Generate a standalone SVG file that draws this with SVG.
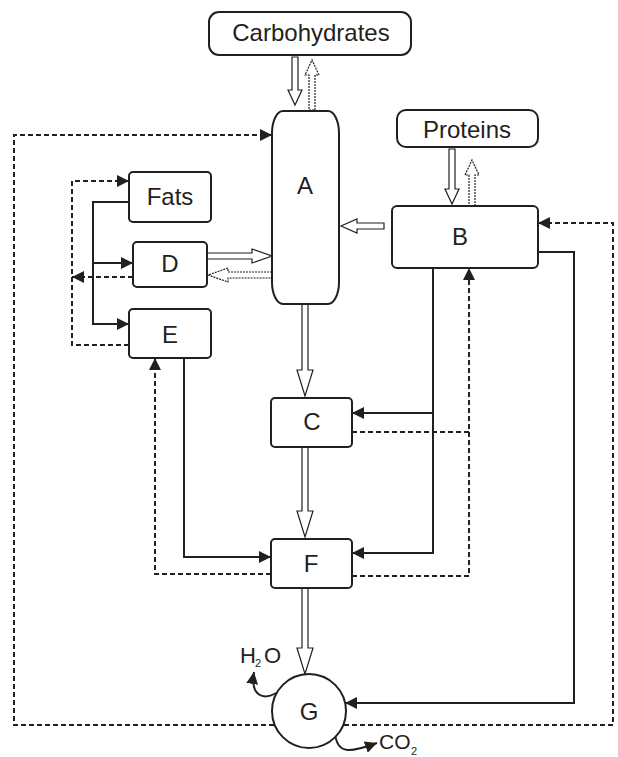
<svg xmlns="http://www.w3.org/2000/svg" width="618" height="757" viewBox="0 0 618 757">
<style>
.box{fill:#fff;stroke:#231f20;stroke-width:2}
.lbl{font-family:"Liberation Sans",Arial,sans-serif;font-size:24px;fill:#231f20;text-anchor:middle}
.s{fill:none;stroke:#231f20;stroke-width:2}
.d{fill:none;stroke:#231f20;stroke-width:2;stroke-dasharray:5,3}
.o{fill:#fff;stroke:#231f20;stroke-width:1.2}
.od{fill:#fff;stroke:#231f20;stroke-width:1.2;stroke-dasharray:2,1}
.sm{font-family:"Liberation Sans",Arial,sans-serif;font-size:21px;fill:#231f20}
.sub{font-size:11px}
</style>
<defs>
<marker id="ah" viewBox="0 0 12 12" refX="12" refY="6" markerWidth="12" markerHeight="12" markerUnits="userSpaceOnUse" orient="auto">
<path d="M0,0 L12,6 L0,12 z" fill="#231f20"/>
</marker>
</defs>
<rect width="618" height="757" fill="#fff"/>
<g id="connectors">
<path class="s" d="M129,202 H93 V324 H129" marker-end="url(#ah)"/>
<path class="s" d="M93,263 H133" marker-end="url(#ah)"/>
<path class="s" d="M433,268 V553 H352" marker-end="url(#ah)"/>
<path class="s" d="M433,413 H352" marker-end="url(#ah)"/>
<path class="s" d="M538,252 H574 V703 H345" marker-end="url(#ah)"/>
<path class="s" d="M184,358 V557 H271" marker-end="url(#ah)"/>
<path class="s" d="M276,693 C264,700 250,697 254,672" marker-end="url(#ah)"/>
<path class="s" d="M335,733 C337,756 352,752 377,743" marker-end="url(#ah)"/>
<path class="d" d="M274,725 H14 V135 H272" marker-end="url(#ah)"/>
<path class="d" d="M344,725 H613 V223 H538" marker-end="url(#ah)"/>
<path class="d" d="M129,345 H72 V181 H129" marker-end="url(#ah)"/>
<path class="d" d="M133,277 H72" marker-end="url(#ah)"/>
<path class="d" d="M352,576 H469 V268" marker-end="url(#ah)"/>
<path class="d" d="M352,432 H469"/>
<path class="d" d="M271,574 H155 V358" marker-end="url(#ah)"/>
<polygon class="o" points="292,57 298,57 298,90 302,90 295,105 288,90 292,90"/>
<polygon class="od" points="309,110 315,110 315,75 319,75 312,60 305,75 309,75"/>
<polygon class="o" points="449,149 455,149 455,189 459,189 452,204 445,189 449,189"/>
<polygon class="od" points="469,206 475,206 475,175 479,175 472,160 465,175 469,175"/>
<polygon class="o" points="384,223 357,223 357,219 341,226 357,233 357,229 384,229"/>
<polygon class="o" points="207,253 252,253 252,249 272,256 252,263 252,259 207,259"/>
<polygon class="od" points="272,272 228,272 228,268 208,275 228,282 228,278 272,278"/>
<polygon class="o" points="302,304 308,304 308,370 313,370 305,396 297,370 302,370"/>
<polygon class="o" points="302,447 308,447 308,511 313,511 305,537 297,511 302,511"/>
<polygon class="o" points="302,588 308,588 308,648 313,648 305,674 297,648 302,648"/>
</g>
<g id="carbohydrates">
<rect class="box" x="209" y="12" width="202" height="43" rx="10"/>
<text class="lbl" x="311" y="41">Carbohydrates</text>
</g>
<g id="proteins">
<rect class="box" x="397" y="110" width="141" height="37" rx="9"/>
<text class="lbl" x="467" y="138">Proteins</text>
</g>
<g id="A">
<rect class="box" x="272" y="111" width="67" height="193" rx="11" ry="22"/>
<text class="lbl" x="305" y="194">A</text>
</g>
<g id="B">
<rect class="box" x="392" y="206" width="146" height="62" rx="5"/>
<text class="lbl" x="460" y="245">B</text>
</g>
<g id="fats">
<rect class="box" x="129" y="172" width="82" height="50" rx="4"/>
<text class="lbl" x="170" y="205">Fats</text>
</g>
<g id="D">
<rect class="box" x="133" y="242" width="74" height="45" rx="4"/>
<text class="lbl" x="170" y="272">D</text>
</g>
<g id="E">
<rect class="box" x="129" y="309" width="82" height="49" rx="4"/>
<text class="lbl" x="170" y="343">E</text>
</g>
<g id="C">
<rect class="box" x="271" y="398" width="81" height="49" rx="4"/>
<text class="lbl" x="312" y="430">C</text>
</g>
<g id="F">
<rect class="box" x="271" y="539" width="81" height="49" rx="4"/>
<text class="lbl" x="311" y="572">F</text>
</g>
<g id="G">
<circle class="box" cx="309" cy="711" r="37"/>
<text class="lbl" x="309" y="720">G</text>
</g>
<g id="h2o">
<text class="sm" x="240" y="663" style="font-size:22px">H<tspan class="sub" x="255" dy="4">2</tspan><tspan x="264" dy="-4">O</tspan></text>
</g>
<g id="co2">
<text class="sm" x="379" y="749">CO<tspan class="sub" x="411" dy="6">2</tspan></text>
</g>
</svg>
